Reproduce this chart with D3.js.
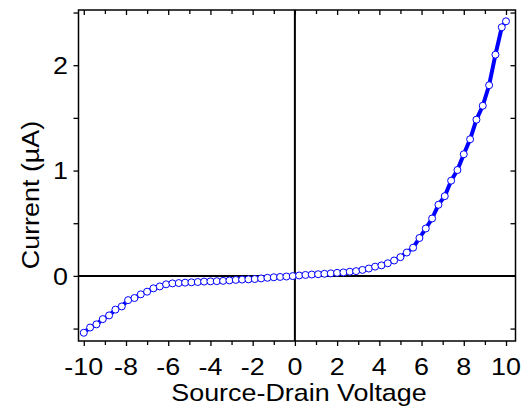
<!DOCTYPE html>
<html>
<head>
<meta charset="utf-8">
<script src="https://cdn.jsdelivr.net/npm/d3@7"></script>
<style>
  html, body { margin: 0; padding: 0; background: #fff; }
  svg { display: block; }
  text { font-family: Arial, "Liberation Sans", Helvetica, sans-serif; fill: #000; }
</style>
</head>
<body>
<svg id="chart" width="523" height="406"></svg>
<script>
// Source-drain voltage (V)
const voltage = [
  -10.0, -9.7, -9.4, -9.1, -8.8, -8.5, -8.2, -7.9, -7.6, -7.3,
  -7.0, -6.7, -6.4, -6.1, -5.8, -5.5, -5.2, -4.9, -4.6, -4.3,
  -4.0, -3.7, -3.4, -3.1, -2.8, -2.5, -2.2, -1.9, -1.6, -1.3,
  -1.0, -0.7, -0.4, -0.1, 0.2, 0.5, 0.8, 1.1, 1.4, 1.7,
  2.0, 2.3, 2.6, 2.9, 3.2, 3.5, 3.8, 4.1, 4.4, 4.7,
  5.0, 5.3, 5.6, 5.9, 6.2, 6.5, 6.8, 7.1, 7.4, 7.7,
  8.0, 8.3, 8.6, 8.9, 9.2, 9.5, 9.8, 10.0
];
// Current (µA)
const current = [
  -0.54, -0.49, -0.46, -0.41, -0.375, -0.32, -0.29, -0.23, -0.21, -0.175,
  -0.15, -0.118, -0.10, -0.08, -0.071, -0.068, -0.064, -0.061, -0.058, -0.054,
  -0.052, -0.05, -0.047, -0.043, -0.038, -0.035, -0.033, -0.03, -0.024, -0.018,
  -0.013, -0.01, -0.006, -0.002, 0.004, 0.009, 0.013, 0.016, 0.02, 0.024,
  0.029, 0.033, 0.04, 0.045, 0.057, 0.07, 0.088, 0.10, 0.12, 0.146,
  0.178, 0.222, 0.268, 0.36, 0.45, 0.545, 0.675, 0.757, 0.904, 1.005,
  1.155, 1.297, 1.483, 1.615, 1.81, 2.10, 2.36, 2.417
];
const xMajorTicks = [-10, -8, -6, -4, -2, 0, 2, 4, 6, 8, 10];
const xMinorTicks = [-9, -7, -5, -3, -1, 1, 3, 5, 7, 9];
const yMajorTicks = [0, 1, 2];
const yMinorTicks = [-0.5, 0.5, 1.5, 2.5];
const xTitle = "Source-Drain Voltage";
const yTitle = "Current (\u00B5A)";

const data = voltage.map((v, i) => ({ v, c: current[i] }));

const svg = d3.select("#chart");
const L = 78.5, R = 515.5, T = 10, B = 341;
const FS = 24, SX = 1.12;

const x = d3.scaleLinear().domain([-10.25, 10.45]).range([L, R]);
const y = d3.scaleLinear().domain([-0.618, 2.524]).range([B, T]);

const fmt = d => String(d);

// zero lines
svg.append("line").attr("x1", x(0)).attr("x2", x(0)).attr("y1", T).attr("y2", B)
  .attr("stroke", "#000").attr("stroke-width", 2);
svg.append("line").attr("x1", L).attr("x2", R).attr("y1", y(0)).attr("y2", y(0))
  .attr("stroke", "#000").attr("stroke-width", 2);

// bottom axis
const gB = svg.append("g").attr("transform", `translate(0,${B})`)
  .call(d3.axisBottom(x).tickValues(xMajorTicks).tickSize(5).tickFormat(""));
const gBm = svg.append("g").attr("transform", `translate(0,${B})`)
  .call(d3.axisBottom(x).tickValues(xMinorTicks).tickSize(4).tickFormat(""));
// top axis (inward ticks)
const gT = svg.append("g").attr("transform", `translate(0,${T})`)
  .call(d3.axisBottom(x).tickValues(xMajorTicks).tickSize(5).tickFormat(""));
const gTm = svg.append("g").attr("transform", `translate(0,${T})`)
  .call(d3.axisBottom(x).tickValues(xMinorTicks).tickSize(4).tickFormat(""));
// left axis
const gL = svg.append("g").attr("transform", `translate(${L},0)`)
  .call(d3.axisLeft(y).tickValues(yMajorTicks).tickSize(5).tickFormat(""));
const gLm = svg.append("g").attr("transform", `translate(${L},0)`)
  .call(d3.axisLeft(y).tickValues(yMinorTicks).tickSize(5).tickFormat(""));
// right axis (inward ticks)
const gR = svg.append("g").attr("transform", `translate(${R},0)`)
  .call(d3.axisLeft(y).tickValues(yMajorTicks).tickSize(5).tickFormat(""));
const gRm = svg.append("g").attr("transform", `translate(${R},0)`)
  .call(d3.axisLeft(y).tickValues(yMinorTicks).tickSize(5).tickFormat(""));

[gB, gBm, gT, gTm, gL, gLm, gR, gRm].forEach(g => {
  g.select(".domain").remove();
  g.selectAll(".tick line").attr("stroke", "#000").attr("stroke-width", 1.3);
  g.selectAll(".tick text").remove();
});

// tick labels (slightly wide lettering as in the reference)
svg.append("g").selectAll("text").data(xMajorTicks).join("text")
  .attr("transform", d => `translate(${x(d)},374.5) scale(${SX},1)`)
  .attr("text-anchor", "middle").attr("font-size", FS).text(fmt);
svg.append("g").selectAll("text").data(yMajorTicks).join("text")
  .attr("transform", d => `translate(68,${y(d)}) scale(${SX},1)`)
  .attr("text-anchor", "end").attr("dy", "0.36em").attr("font-size", FS).text(fmt);

// frame
svg.append("rect").attr("x", L).attr("y", T).attr("width", R - L).attr("height", B - T)
  .attr("fill", "none").attr("stroke", "#000").attr("stroke-width", 1.5);

// data line
const line = d3.line().x(d => x(d.v)).y(d => y(d.c));
svg.append("path").datum(data).attr("d", line)
  .attr("fill", "none").attr("stroke", "#0000ff").attr("stroke-width", 4)
  .attr("stroke-linejoin", "round");

// markers
svg.append("g").selectAll("circle").data(data).join("circle")
  .attr("cx", d => x(d.v)).attr("cy", d => y(d.c)).attr("r", 3.5)
  .attr("fill", "#fff").attr("stroke", "#0000ff").attr("stroke-width", 1);

// titles
svg.append("text").attr("transform", `translate(${(L + R) / 2 + 2},401) scale(${SX},1)`)
  .attr("text-anchor", "middle").attr("font-size", FS).text(xTitle);
svg.append("text").attr("transform", `translate(38.5,195) rotate(-90) scale(${SX},1)`)
  .attr("text-anchor", "middle").attr("font-size", FS).text(yTitle);
</script>
</body>
</html>
